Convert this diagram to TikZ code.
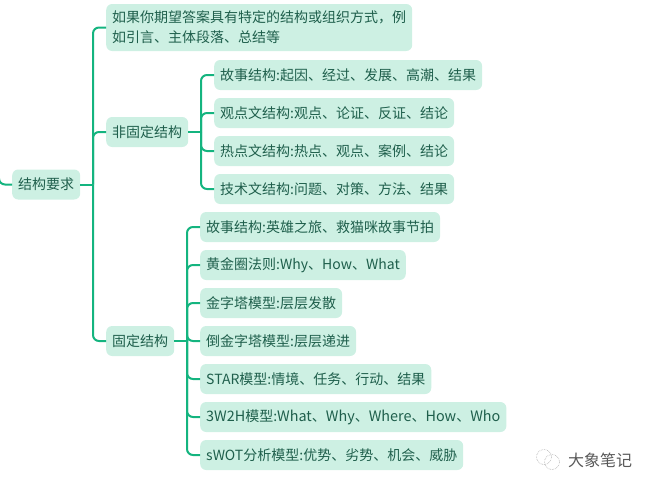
\documentclass[tikz,border=0pt]{standalone}
\usepackage{fontspec}
\setmainfont{Noto Sans CJK SC}
\definecolor{topicfill}{HTML}{CDF0E3}
\definecolor{topictext}{HTML}{1F5F4C}
\definecolor{branchline}{HTML}{14B47F}
\newcommand{\wide}[1]{{\fontsize{14.4}{20}\selectfont #1}}
\tikzset{
  topic/.style={anchor=west,fill=topicfill,text=topictext,rounded corners=6pt,
    inner xsep=6pt,inner ysep=0pt,minimum height=30pt,font=\fontsize{14}{20}\selectfont},
  branch/.style={draw=branchline,line width=2pt,rounded corners=6pt},
}
\begin{document}
\begin{tikzpicture}
[x=1pt,y=-1pt]
\useasboundingbox (0,0) rectangle (652,488);

\node[topic] (root) at (12,184.5) {结构要求};
\node[topic,align=left,minimum height=47pt] (hint) at (106,27.5)
{如果你期望答案具有特定的结构或组织方式，例\\如引言、主体段落、总结等};
\node[topic] (free) at (106,132) {非固定结构};
\node[topic] (fixed) at (106,341) {固定结构};

\coordinate (start) at (-1,170);
\coordinate (rootbus) at (93,184.5);
\coordinate (freebus) at (201,132);
\coordinate (fixedbus) at (187,341);

\draw[branch] (start) |- (root.west);
\draw[branch] (root.east) -- (rootbus);
\draw[branch] (rootbus) |- (hint.west);
\draw[branch] (rootbus) |- (free.west);
\draw[branch] (rootbus) |- (fixed.west);
\draw[branch] (free.east) -- (freebus);
\draw[branch] (fixed.east) -- (fixedbus);

% free structure children
\foreach \name/\ypos/\txt in {
  a/75/故事结构:起因、经过、发展、高潮、结果,
  b/113/观点文结构:观点、论证、反证、结论,
  c/151/热点文结构:热点、观点、案例、结论,
  d/189/技术文结构:问题、对策、方法、结果}
{
  \node[topic] (free\name) at (214,\ypos) {\txt};
  \draw[branch] (freebus) |- (free\name.west);
}

% fixed structure children
\foreach \name/\ypos/\txt in {
  a/227/故事结构:英雄之旅、救猫咪故事节拍,
  b/265/黄金圈法则:Why、How、What,
  c/303/金字塔模型:层层发散,
  d/341/倒金字塔模型:层层递进,
  e/379/STAR模型:情境、任务、行动、结果,
  f/417/\wide{3W2H}模型:\wide{What}、\wide{Why}、\wide{Where}、\wide{How}、\wide{Who},
  g/455/sWOT分析模型:优势、劣势、机会、威胁}
{
  \node[topic] (fixed\name) at (200,\ypos) {\txt};
  \draw[branch] (fixedbus) |- (fixed\name.west);
}

% watermark
\draw[gray!70,densely dotted,line width=0.6pt] (544,457) circle (7.5);
\draw[gray!70,densely dotted,line width=0.6pt] (552,462) circle (7.5);
\node[anchor=west,inner sep=0pt,text=black!65,font=\fontsize{16}{16}\selectfont] (mark) at (568,460) {大象笔记};
\end{tikzpicture}
\end{document}
